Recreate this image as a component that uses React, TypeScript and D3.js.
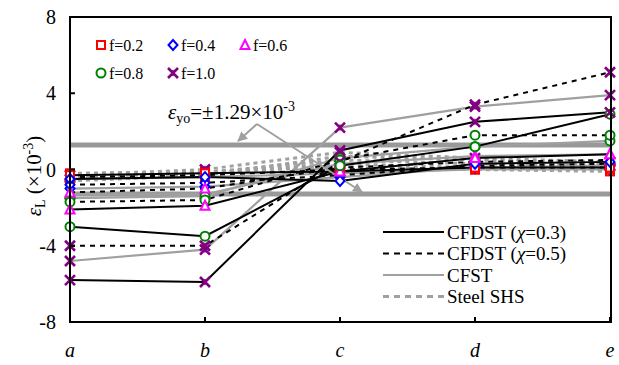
import React from 'react';
import * as d3 from 'd3';

const categories = ['a', 'b', 'c', 'd', 'e'];
const fLabels = ['f=0.2', 'f=0.4', 'f=0.6', 'f=0.8', 'f=1.0'];
const yTicks = [-8, -4, 0, 4, 8];
const yieldStrain = 1.29;

// rows: f=0.2, 0.4, 0.6, 0.8, 1.0 ; columns: a..e
const cfdst03 = [
  [-0.3, -0.2, -0.1, 0.1, 0.1],
  [-0.5, -0.4, -0.6, 0.3, 0.4],
  [-2.1, -1.9, -0.1, 0.6, 0.8],
  [-3.0, -3.5, 0.2, 1.2, 2.9],
  [-5.8, -5.9, 1.0, 2.5, 3.0],
];
const cfdst05 = [
  [-0.4, -0.3, 0.0, 0.1, 0.1],
  [-0.8, -0.7, -0.3, 0.2, 0.3],
  [-1.2, -1.0, 0.1, 0.4, 0.5],
  [-1.7, -1.6, 0.5, 1.8, 1.8],
  [-4.0, -4.0, 0.4, 3.4, 5.1],
];
const cfst = [
  [-0.5, -0.4, -0.2, 0.0, 0.0],
  [-1.0, -0.9, -0.4, 0.1, 0.2],
  [-1.3, -1.3, 0.3, 0.7, 0.8],
  [-1.5, -1.4, 0.6, 1.2, 1.5],
  [-4.8, -4.2, 2.2, 3.3, 3.9],
];
const steelShs = [
  [-0.2, -0.1, 0.1, 0.0, -0.1],
  [-0.3, -0.2, 0.3, 0.1, 0.0],
  [-0.4, -0.15, 0.5, 0.3, 0.2],
  [-0.6, -0.3, 0.7, 0.5, 0.3],
  [-0.3, 0.0, 0.9, 0.6, 0.4],
];
const seriesNames = ['CFDST (χ=0.3)', 'CFDST (χ=0.5)', 'CFST', 'Steel SHS'];
const seriesData = [cfdst03, cfdst05, cfst, steelShs];

const W = 619, H = 365;
const M = { left: 70, right: 611, top: 17, bottom: 322 };
const FONT = 'Liberation Serif, Times New Roman, serif';

const lineStyles = [
  { stroke: '#000', width: 2, dash: '' },
  { stroke: '#000', width: 2, dash: '5,5' },
  { stroke: '#a0a0a0', width: 2.2, dash: '' },
  { stroke: '#a0a0a0', width: 3, dash: '4,4' },
];
const markerColors = ['#ff0000', '#0000ff', '#ff00ff', '#008000', '#800080'];

function Marker({ i, x, y }: { i: number; x: number; y: number }) {
  const c = markerColors[i];
  const s = 4;
  if (i === 0) return <rect x={x - s} y={y - s} width={2 * s} height={2 * s} fill="#fff" stroke={c} strokeWidth={2} />;
  if (i === 1) return <path d={`M${x},${y - 5}L${x + 4.5},${y}L${x},${y + 5}L${x - 4.5},${y}Z`} fill="#fff" stroke={c} strokeWidth={2} />;
  if (i === 2) return <path d={`M${x},${y - 5}L${x + 4.5},${y + 4}L${x - 4.5},${y + 4}Z`} fill="#fff" stroke={c} strokeWidth={2} />;
  if (i === 3) return <circle cx={x} cy={y} r={4.5} fill="#fff" stroke={c} strokeWidth={2} />;
  return (
    <g stroke={c} strokeWidth={2.6} strokeLinecap="butt">
      <path d={`M${x - 5},${y - 5}L${x + 5},${y + 5}M${x - 5},${y + 5}L${x + 5},${y - 5}`} />
      <path d={`M${x},${y - 3}L${x},${y + 3}`} strokeWidth={1.5} />
    </g>
  );
}

export default function App() {
  const x = d3.scalePoint<string>().domain(categories).range([M.left, M.right - 1]);
  const y = d3.scaleLinear().domain([-8, 8]).range([M.bottom, M.top]);
  const line = d3.line<number>().x((_, j) => x(categories[j])!).y((d) => y(d));

  const arrowStart = { x: 257, y: 124 };

  return (
    <svg width={W} height={H} fontFamily={FONT} style={{ position: 'absolute', left: 0, top: 0 }}>
      <defs>
        <marker id="ah" viewBox="0 0 10 10" refX="9" refY="5" markerWidth="5" markerHeight="5" orient="auto">
          <path d="M0,0L10,5L0,10Z" fill="#a0a0a0" />
        </marker>
      </defs>
      <rect width={W} height={H} fill="#fff" />
      {/* yield lines */}
      {[yieldStrain, -yieldStrain].map((v) => (
        <line key={v} x1={M.left} x2={M.right} y1={y(v)} y2={y(v)} stroke="#999" strokeWidth={5} />
      ))}
      {/* series lines */}
      {[3, 2, 1, 0].map((si) =>
        seriesData[si].map((row, fi) => (
          <path key={`${si}-${fi}`} d={line(row)!} fill="none" stroke={lineStyles[si].stroke}
            strokeWidth={lineStyles[si].width} strokeDasharray={lineStyles[si].dash} />
        ))
      )}
      {/* annotation */}
      <line x1={arrowStart.x} y1={arrowStart.y} x2={238} y2={141} stroke="#a0a0a0" strokeWidth={2} markerEnd="url(#ah)" />
      <line x1={arrowStart.x} y1={arrowStart.y} x2={362} y2={192} stroke="#a0a0a0" strokeWidth={2} markerEnd="url(#ah)" />
      <text x={168} y={119} fontSize={21} fill="#000">
        <tspan fontStyle="italic">ε</tspan>
        <tspan fontSize={14} dy={4}>yo</tspan>
        <tspan dy={-4}>=±1.29×10</tspan>
        <tspan fontSize={14} dy={-8}>-3</tspan>
      </text>
      {/* markers */}
      {[3, 2, 1, 0].map((si) =>
        seriesData[si].map((row, fi) =>
          row.map((v, j) => <Marker key={`${si}-${fi}-${j}`} i={fi} x={x(categories[j])!} y={y(v)} />)
        )
      )}
      {/* frame */}
      <rect x={M.left} y={M.top} width={M.right - M.left} height={M.bottom - M.top} fill="none" stroke="#000" strokeWidth={2} />
      {/* y ticks */}
      {yTicks.map((t) => (
        <g key={t}>
          <line x1={M.left} x2={M.left + 5} y1={y(t)} y2={y(t)} stroke="#000" strokeWidth={2} />
          <text x={56} y={y(t)} dy="0.35em" textAnchor="end" fontSize={20}>{t}</text>
        </g>
      ))}
      {/* x ticks */}
      {categories.map((c) => (
        <g key={c}>
          <line x1={x(c)} x2={x(c)} y1={M.bottom} y2={M.bottom - 5} stroke="#000" strokeWidth={2} />
          <text x={x(c)} y={357} textAnchor="middle" fontSize={20} fontStyle="italic">{c}</text>
        </g>
      ))}
      {/* y label */}
      <text transform={`translate(41,${176}) rotate(-90)`} textAnchor="middle" fontSize={21}>
        <tspan fontStyle="italic">ε</tspan>
        <tspan fontSize={14} dy={4}>L</tspan>
        <tspan dy={-4}> (×10</tspan>
        <tspan fontSize={14} dy={-8}>-3</tspan>
        <tspan dy={8}>)</tspan>
      </text>
      {/* marker legend */}
      {fLabels.map((lab, i) => {
        const col = i % 3, rowi = Math.floor(i / 3);
        const mx = 101 + col * 72, my = 45 + rowi * 28;
        return (
          <g key={lab}>
            <Marker i={i} x={mx} y={my} />
            <text x={mx + 8} y={my} dy="0.35em" fontSize={16}>{lab}</text>
          </g>
        );
      })}
      {/* line legend */}
      {seriesNames.map((n, i) => {
        const ly = 232 + i * 21.5;
        const st = lineStyles[i];
        const parts = n.split('χ');
        return (
          <g key={n}>
            <line x1={383} x2={444} y1={ly} y2={ly} stroke={st.stroke} strokeWidth={st.width}
              strokeDasharray={st.dash ? '6,5' : ''} />
            <text x={447} y={ly} dy="0.35em" fontSize={19}>
              {parts.length > 1 ? (
                <>
                  {parts[0]}
                  <tspan fontStyle="italic">χ</tspan>
                  {parts[1]}
                </>
              ) : n}
            </text>
          </g>
        );
      })}
    </svg>
  );
}
